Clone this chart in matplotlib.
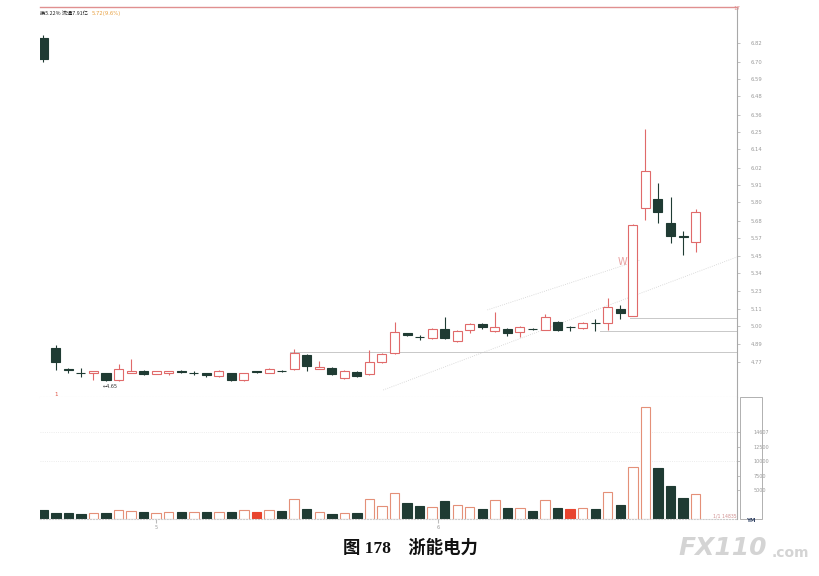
import numpy as np
import matplotlib.pyplot as plt

plt.rcParams['font.family'] = ['DejaVu Sans', 'Noto Sans CJK SC']

# daily bars, index 0 is the clipped candle at the left edge
opens = [6.85, 4.862, 4.727, 4.704, 4.701, 4.701, 4.656, 4.701, 4.714, 4.695,
         4.701, 4.714, 4.701, 4.701, 4.682, 4.701, 4.655, 4.711, 4.701, 4.716,
         4.727, 4.817, 4.727, 4.733, 4.670, 4.708, 4.695, 4.772, 4.830, 4.955,
         4.934, 4.926, 4.984, 4.907, 4.977, 5.016, 4.971, 4.984, 4.965, 4.986,
         4.977, 5.029, 4.999, 4.990, 5.024, 5.022, 5.112, 5.067, 5.761, 5.818,
         5.664, 5.577, 5.542]
highs = [6.87, 4.881, 4.733, 4.733, 4.717, 4.704, 4.759, 4.791, 4.720, 4.717,
         4.717, 4.720, 4.714, 4.704, 4.720, 4.704, 4.704, 4.714, 4.733, 4.720,
         4.855, 4.823, 4.778, 4.740, 4.720, 4.714, 4.849, 4.830, 5.029, 4.960,
         4.945, 4.990, 5.061, 4.975, 5.020, 5.022, 5.093, 4.990, 5.000, 4.990,
         5.080, 5.035, 5.003, 5.026, 5.048, 5.183, 5.138, 5.655, 6.268, 5.921,
         5.831, 5.613, 5.754]
lows = [6.70, 4.721, 4.700, 4.676, 4.656, 4.650, 4.650, 4.700, 4.690, 4.692,
        4.689, 4.700, 4.689, 4.676, 4.676, 4.651, 4.652, 4.700, 4.698, 4.708,
        4.720, 4.714, 4.724, 4.690, 4.665, 4.678, 4.690, 4.768, 4.825, 4.940,
        4.915, 4.920, 4.920, 4.900, 4.955, 4.985, 4.965, 4.940, 4.932, 4.975,
        4.975, 4.972, 4.971, 4.986, 4.971, 4.977, 5.048, 5.065, 5.684, 5.664,
        5.536, 5.459, 5.478]
closes = [6.72, 4.772, 4.721, 4.698, 4.714, 4.656, 4.727, 4.714, 4.695, 4.714,
          4.714, 4.708, 4.698, 4.689, 4.714, 4.655, 4.701, 4.705, 4.727, 4.712,
          4.830, 4.746, 4.740, 4.695, 4.714, 4.682, 4.772, 4.823, 4.965, 4.948,
          4.930, 4.984, 4.926, 4.971, 5.016, 4.997, 4.997, 4.958, 4.997, 4.982,
          5.061, 4.977, 4.995, 5.022, 5.020, 5.125, 5.087, 5.652, 5.998, 5.735,
          5.581, 5.574, 5.735]
volumes = [1500, 1086, 1086, 914, 983, 1034, 1552, 1379, 1207, 983,
           1259, 1207, 1207, 1207, 1207, 1259, 1552, 1259, 1552, 1379,
           3396, 1672, 1259, 914, 1086, 1086, 3396, 2241, 4534, 2707,
           2241, 2121, 3103, 2362, 2121, 1672, 3224, 1845, 1948, 1379,
           3224, 1948, 1672, 1948, 1776, 4707, 2362, 8965, 19361, 8844,
           5690, 3672, 4258]
# u = hollow, d = dark, r = red filled
vol_kind = ['d', 'd', 'd', 'd', 'u', 'd', 'u', 'u', 'd', 'u',
            'u', 'd', 'u', 'd', 'u', 'd', 'u', 'r', 'u', 'd',
            'u', 'd', 'u', 'd', 'u', 'd', 'u', 'u', 'u', 'd',
            'd', 'u', 'd', 'u', 'u', 'd', 'u', 'd', 'u', 'd',
            'u', 'd', 'r', 'u', 'd', 'u', 'd', 'u', 'u', 'd',
            'd', 'd', 'u']

price_ticks = [6.82, 6.70, 6.59, 6.48, 6.36, 6.25, 6.14, 6.02, 5.91, 5.80,
               5.68, 5.57, 5.45, 5.34, 5.23, 5.11, 5.00, 4.89, 4.77]
vol_ticks = [15000, 12500, 10000, 7500, 5000]
vol_tick_labels = ['14607', '12500', '10000', '7500', '5000']

# drawn lines on the price panel: (x0, y0, x1, y1) in bar index / price
trend_lines = [(27.1, 4.592, 55.3, 5.446), (35.4, 5.106, 47.6, 5.427)]
level_lines = [(46.8, 5.054), (44.4, 4.971), (19.7, 4.836)]

UP = '#e06a6a'
DOWN = '#1f3b33'
GRAY = '#a8a8a8'

fig = plt.figure(figsize=(8.2, 5.76), dpi=100)
ax = fig.add_axes([40/820, 1-397/576, 697/820, 390/576])
axv = fig.add_axes([40/820, 1-519/576, 697/820, 122/576], sharex=ax)

x = np.arange(len(opens))
o = np.array(opens); c = np.array(closes)
up = c > o
body_lo = np.minimum(o, c)
body_h = np.maximum(np.abs(c - o), 0.004)

ax.vlines(x, lows, highs, colors=[UP if u else DOWN for u in up], lw=0.8, zorder=1)
ax.bar(x, body_h, bottom=body_lo, width=0.72,
       color=['white' if u else DOWN for u in up],
       edgecolor=[UP if u else DOWN for u in up], lw=0.8, zorder=2)

for x0, y0, x1, y1 in trend_lines:
    ax.plot([x0, x1], [y0, y1], color='#d0d0d0', lw=0.6, ls=':', zorder=0)
for x0, y0 in level_lines:
    ax.plot([x0, 55.3], [y0, y0], color='#c8c8c8', lw=0.7, zorder=0)

ax.annotate('←4.65', (5, lows[5]), xytext=(5.3, 4.612), fontsize=3.5,
            color='#333333', ha='center', va='center')
ax.text(46.2, 5.414, 'W', fontsize=7, color='#e8a0a0', ha='center', va='center')

ax.set_xlim(-0.26, 55.3)
ax.set_ylim(4.547, 7.051)
ax.yaxis.tick_right()
ax.set_yticks(price_ticks)
ax.set_yticklabels([f'{v:.2f}' for v in price_ticks])
ax.tick_params(axis='y', labelsize=3.8, labelcolor='#9a9a9a', color=GRAY,
               length=2, width=0.5, pad=8)
ax.tick_params(axis='x', bottom=False, labelbottom=False)
ax.spines['left'].set_visible(False)
ax.spines['top'].set_color('#e09090')
ax.spines['top'].set_linewidth(1.0)
ax.spines['right'].set_color(GRAY)
ax.spines['right'].set_linewidth(0.8)
ax.spines['bottom'].set_color('#dddddd')
ax.spines['bottom'].set_linestyle(':')
ax.spines['bottom'].set_linewidth(0.8)

vcol = {'u': 'white', 'd': DOWN, 'r': '#e8442e'}
vedge = {'u': '#e49078', 'd': DOWN, 'r': '#e8442e'}
axv.bar(x, volumes, width=0.75, color=[vcol[k] for k in vol_kind],
        edgecolor=[vedge[k] for k in vol_kind], lw=0.8, zorder=2)
for g in [15000, 10000]:
    axv.axhline(g, color='#e6e6e6', lw=0.6, ls=':', zorder=0)
axv.set_ylim(0, 21040)
axv.yaxis.tick_right()
axv.set_yticks(vol_ticks)
axv.set_yticklabels(vol_tick_labels)
axv.tick_params(axis='y', labelsize=3.5, labelcolor='#9a9a9a', color=GRAY,
                length=2, width=0.5, pad=10)
axv.set_xticks([9, 31.5])
axv.set_xticklabels(['5', '6'])
axv.tick_params(axis='x', labelsize=3.5, labelcolor='#999999', length=3,
                color='#bbbbbb', pad=1)
axv.spines['left'].set_visible(False)
axv.spines['top'].set_visible(False)
axv.spines['right'].set_color(GRAY)
axv.spines['bottom'].set_color('#cccccc')
axv.spines['bottom'].set_linestyle(':')

# volume scale box at the right
fig.add_artist(plt.Rectangle((740/820, 1-519/576), 22/820, 122/576,
               fill=False, edgecolor='#b0b0b0', lw=0.7, transform=fig.transFigure))
fig.text(713/820, 1-516/576, '1/1 14835', fontsize=3.3, color='#d09090',
         va='center')
fig.text(746/820, 1-521/576, 'YM', fontsize=4, color='#334466', va='center',
         fontweight='bold')

# header
fig.text(40/820, 1-13/576, '换5.22% 流通7.91亿', fontsize=3.8, color='#222222',
         va='center', family=['Noto Sans CJK SC'])
fig.text(92/820, 1-13/576, '5.72(9.6%)', fontsize=3.8, color='#e8a040',
         va='center')
fig.text(733/820, 1-8/576, '17', fontsize=4, color='#e09090', va='center')
fig.text(56/820, 1-395/576, '1', fontsize=4, color='#e05040', va='center',
         ha='center')

# caption
fig.text(410/820, 1-548/576, '图 178　浙能电力', fontsize=12.5, fontweight='bold',
         family=['Liberation Serif', 'Noto Sans CJK SC'], ha='center',
         va='center', color='#111111')

# watermark
fig.text(678/820, 1-548/576, 'FX110', fontsize=18, fontweight='bold',
         fontstyle='italic', color='#d4d4d4', va='center')
fig.text(772/820, 1-553/576, '.com', fontsize=10, fontweight='bold',
         color='#d4d4d4', va='center')

fig.savefig('out.png', dpi=100)
